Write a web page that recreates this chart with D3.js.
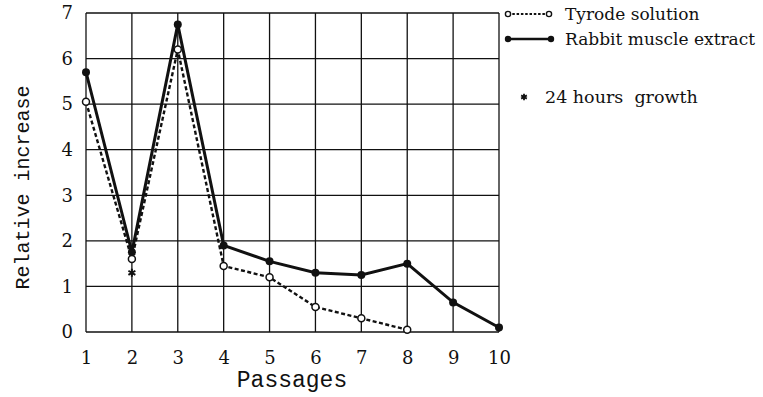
<!DOCTYPE html>
<html>
<head>
<meta charset="utf-8">
<script src="https://cdn.jsdelivr.net/npm/d3@7"></script>
<style>
body { margin: 0; background: #fff; }
text { font-family: "DejaVu Serif", serif; fill: #111; }
</style>
</head>
<body>
<script>
const width = 763, height = 397;

const passages = [1, 2, 3, 4, 5, 6, 7, 8, 9, 10];
const rabbit = [5.7, 1.75, 6.75, 1.9, 1.55, 1.3, 1.25, 1.5, 0.65, 0.1];
const tyrode = [5.05, 1.6, 6.2, 1.45, 1.2, 0.55, 0.3, 0.05];
const growth24 = [{passage: 2, value: 1.3}];
const yTicks = [0, 1, 2, 3, 4, 5, 6, 7];

const x = d3.scaleLinear().domain([1, 10]).range([86, 499]);
const y = d3.scaleLinear().domain([0, 7]).range([332, 13]);

const svg = d3.select("body")
	.append("svg")
	.attr("width", width)
	.attr("height", height);

// grid
const grid = svg.append("g").attr("stroke", "#111").attr("stroke-width", 1.3);
grid.selectAll("line.v")
	.data(passages)
	.enter()
	.append("line")
	.attr("x1", d => x(d)).attr("x2", d => x(d))
	.attr("y1", y(0)).attr("y2", y(7));
grid.selectAll("line.h")
	.data(yTicks)
	.enter()
	.append("line")
	.attr("y1", d => y(d)).attr("y2", d => y(d))
	.attr("x1", x(1)).attr("x2", x(10));

// tick labels
const yAxis = d3.axisLeft(y).tickValues(yTicks).tickSize(0).tickPadding(13).tickFormat(d3.format("d"));
svg.append("g")
	.attr("transform", `translate(${x(1)},0)`)
	.call(yAxis)
	.call(g => g.select(".domain").remove())
	.selectAll("text")
	.style("font-size", "18px")
	.style("font-family", "DejaVu Serif");

const xAxis = d3.axisBottom(x).tickValues(passages).tickSize(0).tickPadding(19).tickFormat(d3.format("d"));
svg.append("g")
	.attr("transform", `translate(0,${y(0)})`)
	.call(xAxis)
	.call(g => g.select(".domain").remove())
	.selectAll("text")
	.style("font-size", "18px")
	.style("font-family", "DejaVu Serif");

svg.append("text")
	.attr("transform", `translate(29,${(y(0) + y(7)) / 2 + 15}) rotate(-90)`)
	.attr("text-anchor", "middle")
	.style("font-family", "Liberation Mono")
	.style("font-size", "20px")
	.text("Relative increase");

svg.append("text")
	.attr("x", 292)
	.attr("y", 387)
	.attr("text-anchor", "middle")
	.style("font-family", "Liberation Mono")
	.style("font-size", "23px")
	.text("Passages");

// series
const line = d3.line().x((d, i) => x(passages[i])).y(d => y(d));

svg.append("path")
	.datum(tyrode)
	.attr("d", line)
	.attr("fill", "none")
	.attr("stroke", "#111")
	.attr("stroke-width", 2.4)
	.attr("stroke-dasharray", "4,2.5");

svg.append("path")
	.datum(rabbit)
	.attr("d", line)
	.attr("fill", "none")
	.attr("stroke", "#111")
	.attr("stroke-width", 3);

svg.selectAll("circle.rabbit")
	.data(rabbit)
	.enter()
	.append("circle")
	.attr("cx", (d, i) => x(passages[i]))
	.attr("cy", d => y(d))
	.attr("r", 4)
	.attr("fill", "#111");

svg.selectAll("circle.tyrode")
	.data(tyrode)
	.enter()
	.append("circle")
	.attr("cx", (d, i) => x(passages[i]))
	.attr("cy", d => y(d))
	.attr("r", 3.5)
	.attr("fill", "#fff")
	.attr("stroke", "#111")
	.attr("stroke-width", 1.5);

const star = d3.symbol(d3.symbolAsterisk, 45);
svg.selectAll("path.star")
	.data(growth24)
	.enter()
	.append("path")
	.attr("d", star)
	.attr("transform", d => `translate(${x(d.passage)},${y(d.value)})`)
	.attr("fill", "none")
	.attr("stroke", "#111")
	.attr("stroke-width", 2);

// legend
const lg = svg.append("g");
lg.append("line").attr("x1", 508).attr("x2", 549).attr("y1", 14).attr("y2", 14)
	.attr("stroke", "#111").attr("stroke-width", 1.8).attr("stroke-dasharray", "2.5,1.8");
lg.selectAll("circle.lt").data([508, 549]).enter().append("circle")
	.attr("cx", d => d).attr("cy", 14).attr("r", 2.6)
	.attr("fill", "#fff").attr("stroke", "#111").attr("stroke-width", 1.4);
lg.append("text").attr("x", 565).attr("y", 20).style("font-size", "17px").text("Tyrode solution");

lg.append("line").attr("x1", 508).attr("x2", 551).attr("y1", 39).attr("y2", 39)
	.attr("stroke", "#111").attr("stroke-width", 2.6);
lg.selectAll("circle.lr").data([508, 551]).enter().append("circle")
	.attr("cx", d => d).attr("cy", 39).attr("r", 3.2)
	.attr("fill", "#111");
lg.append("text").attr("x", 565).attr("y", 45).style("font-size", "17px").text("Rabbit muscle extract");

lg.append("path").attr("d", d3.symbol(d3.symbolAsterisk, 30)())
	.attr("transform", "translate(524,97)")
	.attr("fill", "none").attr("stroke", "#111").attr("stroke-width", 1.8);
lg.append("text").attr("x", 545).attr("y", 103).style("font-size", "17.5px")
	.style("white-space", "pre").text("24 hours  growth");
</script>
</body>
</html>
